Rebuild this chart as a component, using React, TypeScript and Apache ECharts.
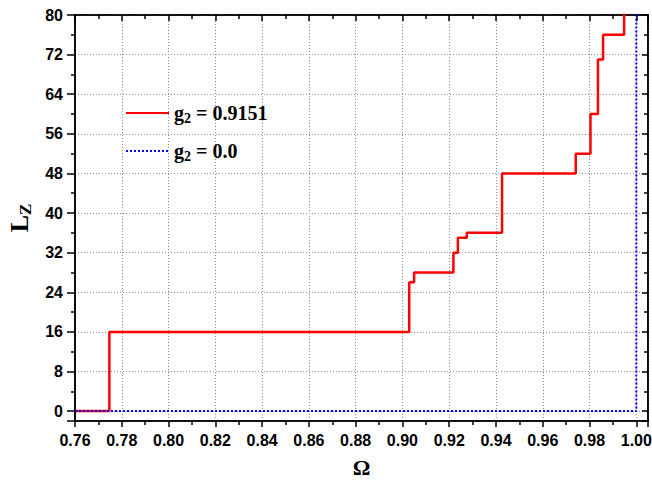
import React, { useEffect, useRef } from "react";
import * as echarts from "echarts";

const seriesNames = ["g2 = 0.9151", "g2 = 0.0"];
// step corners: level y begins at x
const redSteps: [number, number][] = [
  [0.76, 0], [0.7747, 16], [0.9029, 26], [0.905, 28], [0.9218, 32], [0.9237, 35],
  [0.9275, 36], [0.9426, 48], [0.9741, 52], [0.9804, 60], [0.9836, 71], [0.9858, 76], [0.9948, 84],
];
const bluePoints: [number, number][] = [[0.76, 0], [1.0, 0], [1.0, 84]];
const xMin = 0.76, xMax = 1.005, xInterval = 0.02;
const yMin = -2, yMax = 80, yInterval = 8;

const serif = "'Liberation Serif', 'Times New Roman', serif";
const sans = "'Liberation Sans', Arial, sans-serif";

export default function App() {
  const ref = useRef<HTMLDivElement>(null);
  useEffect(() => {
    const chart = echarts.init(ref.current!, null, { renderer: "svg" });
    const axisLine = () => ({ show: true, onZero: false, lineStyle: { color: "#000", width: 1.6 } });
    const tick = (inside: boolean, length: number) => ({ show: true, inside, length, lineStyle: { color: "#000", width: 1.5 } });
    const minor = (length: number) => ({ show: true, splitNumber: 2, length, lineStyle: { color: "#000", width: 1.5 } });
    const grid = () => ({ show: true, lineStyle: { color: "#8c8c8c", width: 1, type: [1, 2] as any } });
    chart.setOption({
      animation: false,
      grid: {
        left: 75, right: 4, top: 15, bottom: 64,
        show: true, borderColor: "#000", borderWidth: 1.6, backgroundColor: "transparent",
        outerBoundsMode: "none", containLabel: false,
      },
      legend: {
        orient: "vertical",
        left: 125,
        top: 103,
        padding: 0,
        itemWidth: 43,
        itemHeight: 14,
        itemGap: 16,
        icon: "inherit",
        itemStyle: { opacity: 0 },
        data: seriesNames,
        formatter: (n: string) => `{g|g}{s|2}{t|${n.slice(2)}}`,
        textStyle: {
          rich: {
            g: { fontFamily: serif, fontWeight: "bold", fontSize: 20, lineHeight: 24, color: "#000" },
            s: { fontFamily: serif, fontWeight: "bold", fontSize: 14, lineHeight: 14, verticalAlign: "bottom", color: "#000" },
            t: { fontFamily: serif, fontWeight: "bold", fontSize: 20, lineHeight: 24, color: "#000" },
          },
        },
      },
      xAxis: [
        {
          type: "value", min: xMin, max: xMax, interval: xInterval, position: "bottom",
          name: "Ω", nameLocation: "middle", nameGap: 35,
          nameTextStyle: { fontFamily: serif, fontWeight: "bold", fontSize: 22, color: "#000" },
          axisLine: axisLine(),
          axisTick: tick(false, 6),
          minorTick: minor(4),
          axisLabel: {
            fontFamily: sans, fontWeight: "bold", fontSize: 16, color: "#000", margin: 11,
            showMaxLabel: false, formatter: (v: number) => v.toFixed(2),
          },
          splitLine: grid(),
        },
        {
          type: "value", min: xMin, max: xMax, interval: xInterval, position: "top",
          axisLine: axisLine(),
          axisTick: tick(true, 6),
          minorTick: minor(4),
          axisLabel: { show: false },
          splitLine: { show: false },
        },
      ],
      yAxis: [
        {
          type: "value", min: yMin, max: yMax, minInterval: yInterval, maxInterval: yInterval, position: "left",
          name: "{a|L}{b|Z}", nameLocation: "middle", nameGap: 40, nameRotate: 90,
          nameTextStyle: {
            rich: {
              a: { fontFamily: serif, fontWeight: "bold", fontSize: 26, lineHeight: 30, color: "#000" },
              b: { fontFamily: serif, fontWeight: "bold", fontSize: 17, lineHeight: 17, verticalAlign: "bottom", color: "#000" },
            },
          },
          axisLine: axisLine(),
          axisTick: tick(false, 8),
          minorTick: minor(4),
          axisLabel: {
            fontFamily: sans, fontWeight: "bold", fontSize: 16, color: "#000", margin: 12,
            showMinLabel: false,
          },
          splitLine: grid(),
        },
        {
          type: "value", min: yMin, max: yMax, minInterval: yInterval, maxInterval: yInterval, position: "right",
          axisLine: axisLine(),
          axisTick: tick(true, 6),
          minorTick: minor(4),
          axisLabel: { show: false },
          splitLine: { show: false },
        },
      ],
      series: [
        {
          name: seriesNames[0], type: "line", step: "end", data: redSteps,
          symbol: "none", lineStyle: { color: "#ff0000", width: 2.5 }, itemStyle: { color: "#ff0000" },
          xAxisIndex: 0, yAxisIndex: 0,
        },
        {
          name: seriesNames[1], type: "line", data: bluePoints,
          symbol: "none", lineStyle: { color: "#0000ff", width: 2, type: [2, 2] }, itemStyle: { color: "#0000ff" },
          xAxisIndex: 0, yAxisIndex: 0,
        },
      ],
    });
    return () => chart.dispose();
  }, []);
  return <div ref={ref} style={{ width: 652, height: 485, position: "absolute", left: 0, top: 0 }} />;
}
